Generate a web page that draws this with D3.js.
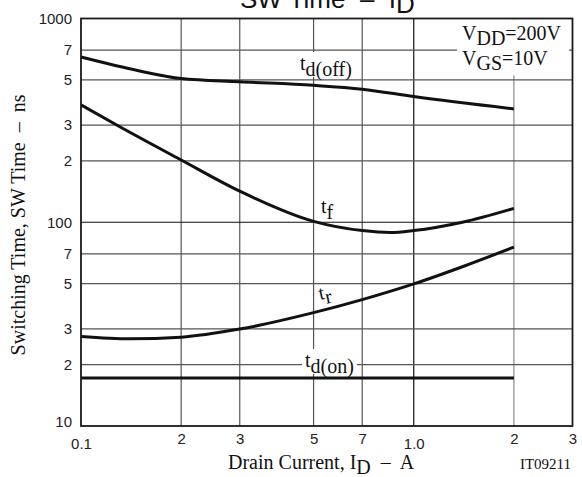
<!DOCTYPE html>
<html>
<head>
<meta charset="utf-8">
<script src="https://cdn.jsdelivr.net/npm/d3@7"></script>
<style>
body { margin: 0; background: #fff; }
svg text { white-space: pre; }
</style>
</head>
<body>
<div id="chart"></div>
<script>
// drain current (A) and switching time (ns)
var tdOffI = [0.1, 0.15, 0.2, 0.3, 0.5, 0.7, 1.0, 2.0];
var tdOffT = [647, 553, 507, 489, 470, 450, 414, 360];
var tfI = [0.1, 0.128, 0.2, 0.3, 0.5, 0.7, 0.85, 1.0, 1.4, 2.0];
var tfT = [377, 300, 202, 142, 101, 91, 89, 91, 100, 117];
var trI = [0.1, 0.14, 0.2, 0.3, 0.5, 0.7, 1.0, 1.4, 2.0];
var trT = [27.5, 26.8, 27.3, 29.9, 36, 41.7, 49.8, 60.5, 75.5];
var tdOnI = [0.1, 2.0];
var tdOnT = [17.2, 17.2];

var xTicks = [0.1, 0.2, 0.3, 0.5, 0.7, 1.0, 2.0, 3.0];
var xTickLabels = ["0.1", "2", "3", "5", "7", "1.0", "2", "3"];
var yTicks = [10, 20, 30, 50, 70, 100, 200, 300, 500, 700, 1000];
var yTickLabels = ["10", "2", "3", "5", "7", "100", "2", "3", "5", "7", "1000"];
var xGrid = [0.2, 0.3, 0.5, 0.7, 1.0, 2.0];
var yGrid = [20, 30, 50, 70, 100, 200, 300, 500, 700];

var W = 582, H = 477;
var margin = {top: 18.5, right: 9.5, bottom: 51, left: 81};
var serif = "'Liberation Serif', 'Times New Roman', serif";
var sans = "'Liberation Sans', Arial, sans-serif";

var svg = d3.select("#chart").append("svg")
    .attr("width", W)
    .attr("height", H);

var x = d3.scaleLog().domain([0.1, 3]).range([margin.left, W - margin.right]);
var y = d3.scaleLog().domain([10, 1000]).range([H - margin.bottom, margin.top]);

function zip(xs, ys) {
    return xs.map(function(v, i) { return {i: v, t: ys[i]}; });
}

var gridG = svg.append("g").attr("class", "grid");
var bgG = svg.append("g").attr("class", "label-bg");
var curveG = svg.append("g").attr("class", "curves");
var textG = svg.append("g").attr("class", "labels");

gridG.selectAll(".vgrid")
    .data(xGrid)
    .enter().append("line")
    .attr("class", "vgrid")
    .attr("x1", function(d) { return x(d); })
    .attr("x2", function(d) { return x(d); })
    .attr("y1", y(10))
    .attr("y2", y(1000))
    .style("stroke", function(d) { return d == 1 ? "#111" : (d == 2 ? "#888" : "#555"); })
    .style("stroke-width", 1.2);

gridG.selectAll(".hgrid")
    .data(yGrid)
    .enter().append("line")
    .attr("class", "hgrid")
    .attr("x1", x(0.1))
    .attr("x2", x(3))
    .attr("y1", function(d) { return y(d); })
    .attr("y2", function(d) { return y(d); })
    .style("stroke", function(d) { return d == 100 ? "#111" : "#555"; })
    .style("stroke-width", 1.2);

// axes: labels only, frame drawn separately
var xAxis = d3.axisBottom(x).tickValues(xTicks).tickSize(0).tickPadding(7)
    .tickFormat(function(d, i) { return xTickLabels[i]; });
var yAxis = d3.axisLeft(y).tickValues(yTicks).tickSize(0).tickPadding(9)
    .tickFormat(function(d, i) { return yTickLabels[i]; });

var gx = svg.append("g")
    .attr("transform", "translate(0," + y(10) + ")")
    .call(xAxis);
gx.select(".domain").remove();
gx.selectAll("text")
    .style("font-family", sans).style("font-size", "15px").style("fill", "#222")
    .attr("dy", function(d) { return (d == 0.1 || d == 1) ? "1.05em" : "0.71em"; });

var gy = svg.append("g")
    .attr("transform", "translate(" + x(0.1) + ",0)")
    .call(yAxis);
gy.select(".domain").remove();
gy.selectAll("text")
    .style("font-family", sans).style("font-size", "15px").style("fill", "#222")
    .attr("y", function(d) { return d == 10 ? -4 : 0; });

svg.append("rect")
    .attr("x", x(0.1)).attr("y", y(1000))
    .attr("width", x(3) - x(0.1)).attr("height", y(10) - y(1000))
    .style("fill", "none").style("stroke", "#1a1a1a").style("stroke-width", 1.8);

// curves
var line = d3.line()
    .x(function(d) { return x(d.i); })
    .y(function(d) { return y(d.t); })
    .curve(d3.curveMonotoneX);

[zip(tdOffI, tdOffT), zip(tfI, tfT), zip(trI, trT), zip(tdOnI, tdOnT)].forEach(function(s) {
    curveG.append("path")
        .datum(s)
        .attr("d", line)
        .style("fill", "none")
        .style("stroke", "#111")
        .style("stroke-width", 3);
});

// curve labels: t with lowered subscript, white box to break the grid
function curveLabel(px, py, sub, rot, box) {
    var t = textG.append("text")
        .attr("x", px).attr("y", py)
        .style("font-family", serif).style("font-size", "20px").style("fill", "#111");
    t.append("tspan").text("t");
    t.append("tspan").attr("dy", box ? 6 : 5).text(sub);
    if (rot) t.attr("transform", "rotate(" + rot + "," + px + "," + py + ")");
    if (box) {
        var b = t.node().getBBox();
        bgG.append("rect")
            .attr("x", b.x - 3).attr("y", b.y)
            .attr("width", b.width + 6).attr("height", b.height - 4)
            .style("fill", "#fff");
    }
}
curveLabel(300, 70, "d(off)", 0, true);
curveLabel(321, 213, "f", 0, true);
curveLabel(320, 300, "r", -12, false);
curveLabel(305, 367, "d(on)", 0, true);

// conditions box
bgG.append("rect")
    .attr("x", 457).attr("y", y(1000) + 1)
    .attr("width", 112).attr("height", 56)
    .style("fill", "#fff");
function condLine(py, sub, rest) {
    var t = textG.append("text")
        .attr("x", 462).attr("y", py)
        .style("font-family", serif).style("font-size", "20px").style("fill", "#111");
    t.append("tspan").text("V");
    t.append("tspan").attr("dy", 5).text(sub);
    t.append("tspan").attr("dy", -5).text(rest);
}
condLine(40, "DD", "=200V");
condLine(65, "GS", "=10V");

// titles
var title = svg.append("text")
    .attr("x", 240).attr("y", 8)
    .style("font-family", sans).style("font-size", "26px").style("fill", "#111");
title.append("tspan").text("SW Time  \u2013  I");
title.append("tspan").attr("dy", 5).text("D");

var xt = svg.append("text")
    .attr("x", 228).attr("y", 469)
    .style("font-family", serif).style("font-size", "20px").style("fill", "#111");
xt.append("tspan").text("Drain Current, I");
xt.append("tspan").attr("dy", 5).text("D");
xt.append("tspan").attr("dy", -5).text("  \u2013  A");

svg.append("text")
    .attr("transform", "translate(25,225) rotate(-90)")
    .attr("text-anchor", "middle")
    .style("font-family", serif).style("font-size", "20px").style("fill", "#111")
    .text("Switching Time, SW Time  \u2013  ns");

svg.append("text")
    .attr("x", 571).attr("y", 469)
    .attr("text-anchor", "end")
    .style("font-family", serif).style("font-size", "15px").style("fill", "#111")
    .text("IT09211");
</script>
</body>
</html>
